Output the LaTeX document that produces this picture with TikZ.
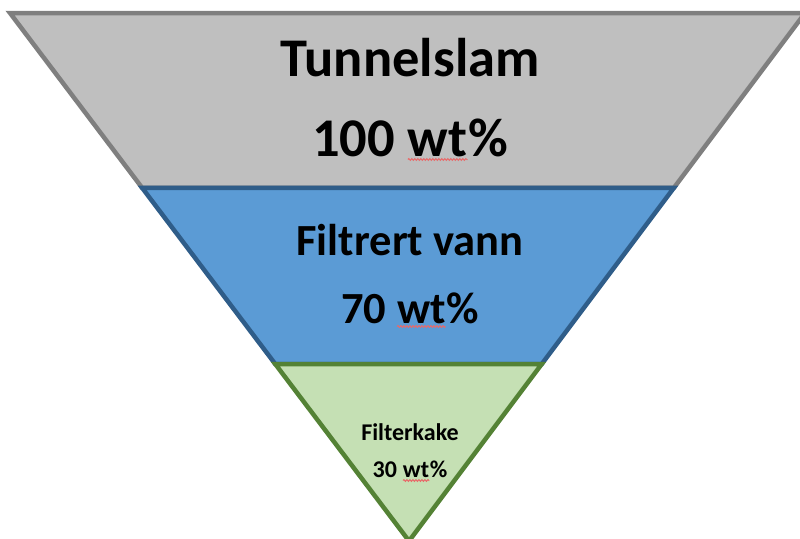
\documentclass[tikz,border=0pt]{standalone}
\usepackage{fontspec}
\setmainfont{Carlito}
\usetikzlibrary{calc,decorations.pathmorphing}

\definecolor{slamfill}{HTML}{BFBFBF}
\definecolor{slamline}{HTML}{7F7F7F}
\definecolor{vannfill}{HTML}{5B9BD5}
\definecolor{vannline}{HTML}{2F5D89}
\definecolor{kakefill}{HTML}{C5E0B4}
\definecolor{kakeline}{HTML}{548235}
\definecolor{spellred}{HTML}{E86A6A}

\tikzset{
  layer/.style={line width=4.5pt, line join=miter},
  label/.style={anchor=base, inner sep=0pt, font=\bfseries},
  wavy/.style={spellred, line width=1pt, decorate,
    decoration={snake, amplitude=0.9pt, segment length=3pt}},
}

% red wavy spell-check underline under a word
\newcommand\spellwave[1]{%
  \tikz[baseline=(sw.base)]{%
    \node[inner sep=0pt, outer sep=0pt, anchor=base] (sw) {#1};
    \draw[wavy] ([yshift=-3.5pt]sw.base west) -- ([yshift=-3.5pt]sw.base east);}}

\begin{document}
\begin{tikzpicture}[x=1pt, y=-1pt]
  \useasboundingbox (0,0) rectangle (800,538);
  \clip (0,0) rectangle (800,538);

  % outline of the funnel
  \coordinate (TL) at (10,13);
  \coordinate (TR) at (805,13);
  \coordinate (AP) at (409,541);
  \coordinate (ML) at ($(TL)!0.3314!(AP)$);
  \coordinate (MR) at ($(TR)!0.3314!(AP)$);
  \coordinate (BL) at ($(TL)!0.6648!(AP)$);
  \coordinate (BR) at ($(TR)!0.6648!(AP)$);

  % three layers, top to bottom
  \draw[layer, draw=slamline, fill=slamfill] (TL) -- (TR) -- (MR) -- (ML) -- cycle;
  \draw[layer, draw=vannline, fill=vannfill] (ML) -- (MR) -- (BR) -- (BL) -- cycle;
  \draw[layer, draw=kakeline, fill=kakefill] (BL) -- (BR) -- (AP) -- cycle;

  % labels
  \node[label, font=\fontsize{54.5}{60}\selectfont\bfseries] (t1) at (410,76) {Tunnelslam};
  \node[label, font=\fontsize{54.5}{60}\selectfont\bfseries] (t2) at (410,156) {100 \spellwave{wt}\%};
  \node[label, font=\fontsize{44.5}{50}\selectfont\bfseries] (t3) at (410,255) {Filtrert vann};
  \node[label, font=\fontsize{44.5}{50}\selectfont\bfseries] (t4) at (410,323) {70 \spellwave{wt}\%};
  \node[label, font=\fontsize{24}{28}\selectfont\bfseries] (t5) at (410,440) {Filterkake};
  \node[label, font=\fontsize{24}{28}\selectfont\bfseries] (t6) at (410,477) {30 \spellwave{wt}\%};
\end{tikzpicture}
\end{document}
